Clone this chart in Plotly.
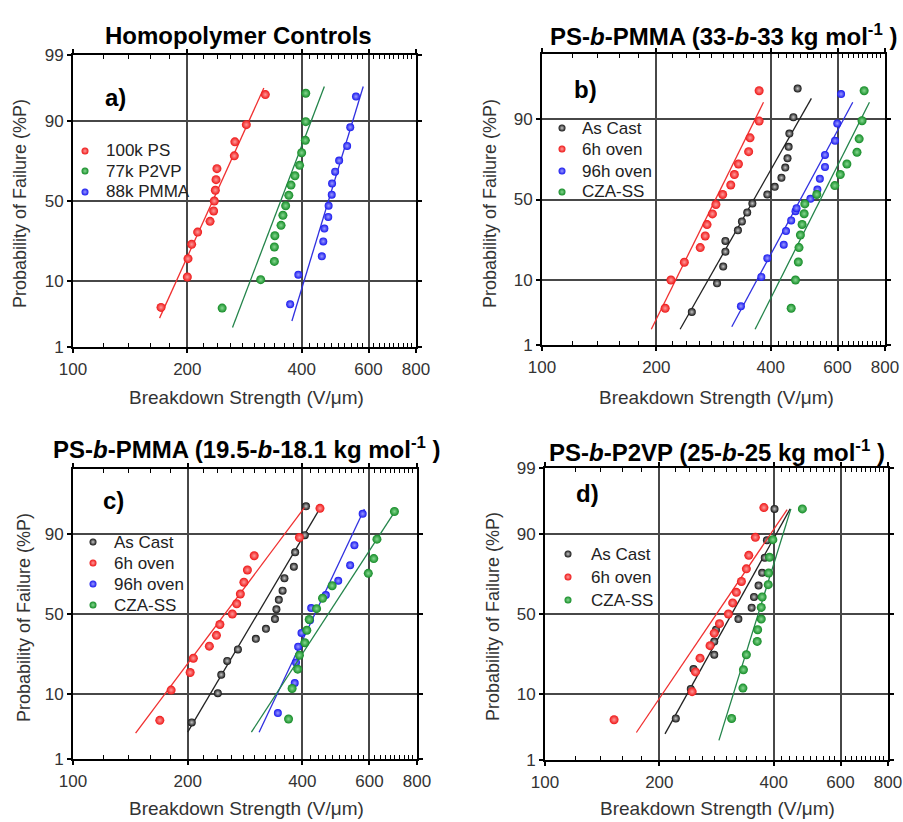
import math
from statistics import NormalDist
import plotly.graph_objects as go

# ---------------- data (Breakdown strength V/um, probability of failure %) ----------------
# a) Homopolymer controls
a_ps_x = [170.5, 200, 200.8, 205.3, 212.9, 229.5, 234.6, 235.5, 237, 238, 239.3, 265.9, 266.8, 286, 320.9]
a_ps_p = [4.5, 11.3, 17.9, 24.5, 31.0, 37.3, 43.7, 50.0, 56.8, 63.3, 69.7, 76.4, 82.7, 88.8, 95.5]
a_p2vp_x = [247, 312, 339, 339, 340, 353, 357, 363, 370, 375, 384, 395, 400, 409, 410, 410]
a_p2vp_p = [4.4, 10.5, 16.8, 23.2, 29.0, 34.9, 41.0, 47.0, 53.6, 60.0, 65.6, 71.5, 77.9, 83.3, 89.7, 95.7]
a_pmma_x = [373, 392, 452, 456, 459, 470, 471, 480, 481, 490, 502, 527, 537, 556]
a_pmma_p = [5.0, 12.0, 18.9, 26.0, 33.0, 40.0, 47.0, 54.0, 61.0, 68.0, 74.0, 81.0, 88.0, 95.2]
a_ps_fit_x, a_ps_fit_p = [169, 318], [3.1, 96.4]
a_p2vp_fit_x, a_p2vp_fit_p = [263, 459], [2.2, 96.6]
a_pmma_fit_x, a_pmma_fit_p = [377, 581], [2.8, 96.6]

# b) PS-b-PMMA 33-b-33
b_cast_x = [248, 289, 300, 304, 304, 328, 336, 347, 358, 392, 410, 427, 437, 443, 446, 448, 459, 471]
b_cast_p = [3.6, 9.0, 14.2, 20.2, 25.4, 31.1, 36.3, 41.8, 47.5, 53.2, 58.0, 63.6, 69.5, 74.5, 80.0, 85.4, 90.6, 96.2]
b_6h_x = [211, 218.5, 237, 261, 269, 272, 281, 287, 299, 314, 321, 329, 350, 353, 373, 373]
b_6h_p = [4.1, 9.9, 15.8, 22.1, 28.0, 34.4, 40.9, 46.8, 53.2, 59.2, 65.5, 71.5, 77.8, 83.8, 89.5, 95.9]
b_96h_x = [334, 378, 392, 433, 439, 453, 465, 468, 509, 531, 539, 556, 556, 591, 599, 613]
b_96h_p = [4.4, 10.8, 17.4, 23.5, 30.7, 36.9, 42.6, 44.5, 50.4, 56.3, 63.0, 69.9, 76.2, 82.6, 88.8, 95.4]
b_cza_x = [453, 465, 473, 475, 479, 484, 490, 492, 529, 590, 610, 635, 675, 684, 696, 705]
b_cza_p = [4.1, 9.9, 15.9, 22.1, 28.5, 34.5, 41.0, 47.2, 53.2, 58.8, 65.5, 71.5, 77.5, 83.4, 89.6, 95.9]
b_cast_fit_x, b_cast_fit_p = [231, 512], [1.9, 94.7]
b_6h_fit_x, b_6h_fit_p = [194, 383], [1.9, 94.0]
b_96h_fit_x, b_96h_fit_p = [316, 658], [2.1, 94.0]
b_cza_fit_x, b_cza_fit_p = [364, 728], [1.9, 94.0]

# c) PS-b-PMMA 19.5-b-18.1
c_cast_x = [205, 240, 245, 254, 271, 302, 321, 339, 342, 347, 355, 359, 380, 383, 406, 409]
c_cast_p = [4.1, 10.2, 16.5, 22.6, 28.5, 34.5, 40.6, 46.8, 53.0, 59.0, 64.6, 71.7, 77.6, 83.9, 89.7, 95.8]
c_6h_x = [169, 181, 203, 207, 228, 238, 243, 262, 269, 275, 281, 287, 299, 393, 445]
c_6h_p = [4.4, 11.1, 17.4, 23.9, 30.3, 36.6, 43.3, 50.0, 56.5, 62.6, 69.5, 76.0, 82.5, 89.0, 95.5]
c_96h_x = [345, 382, 385, 390, 398, 419, 422, 461, 497, 534, 548, 576]
c_96h_p = [5.6, 13.4, 21.8, 30.0, 38.1, 46.0, 53.8, 61.9, 70.3, 78.3, 86.5, 94.6]
c_cza_x = [368, 376, 389, 393, 406, 411, 417, 436, 452, 479, 596, 616, 628, 698]
c_cza_p = [4.6, 11.6, 18.8, 25.4, 32.2, 39.7, 46.5, 53.4, 60.0, 67.5, 74.3, 81.3, 88.5, 95.0]
c_cast_fit_x, c_cast_fit_p = [200, 439], [2.9, 94.9]
c_6h_fit_x, c_6h_fit_p = [146, 405], [2.8, 95.6]
c_96h_fit_x, c_96h_fit_p = [308, 582], [2.9, 95.4]
c_cza_fit_x, c_cza_fit_p = [294, 705], [2.9, 95.3]

# d) PS-b-P2VP 25-b-25
d_cast_x = [221, 242, 246, 279, 279, 282, 323, 350, 355, 365, 373, 379, 384, 402]
d_cast_p = [4.8, 11.6, 19.0, 25.8, 33.0, 40.1, 46.8, 54.0, 60.7, 67.5, 74.4, 81.5, 88.0, 95.3]
d_6h_x = [152, 244, 249, 256, 272, 279, 288, 304, 312, 319, 329, 339, 344, 358, 377]
d_6h_p = [4.6, 10.8, 17.8, 24.1, 30.7, 38.0, 43.9, 50.0, 57.0, 63.5, 69.8, 76.4, 82.5, 88.9, 95.5]
d_cza_x = [310, 332, 333, 339, 362, 363, 371, 371, 373, 387, 388, 390, 398, 476]
d_cza_p = [4.8, 11.9, 18.7, 25.8, 33.1, 40.1, 46.8, 54.2, 60.7, 68.0, 74.3, 81.7, 88.2, 95.3]
d_6h_fit_x, d_6h_fit_p = [174, 434], [2.95, 95.2]
d_cast_fit_x, d_cast_fit_p = [207, 442], [2.8, 95.3]
d_cza_fit_x, d_cza_fit_p = [287, 444], [2.2, 95.3]

x_tick_vals = [100, 200, 400, 600, 800]
y_tick_vals_full = [1, 10, 50, 90, 99]
y_tick_vals_short = [1, 10, 50, 90]

# ---------------- styling ----------------
FONT = "Liberation Sans, Arial, sans-serif"
W, H = 903, 822
RED, GREEN, BLUE, BLACK = "#ee1515", "#128a25", "#1818ee", "#111111"
TINT = {RED: "#ff9a9a", GREEN: "#86d890", BLUE: "#9a9aff", BLACK: "#c8c8c8"}
LINE = {RED: "#f03030", GREEN: "#23844a", BLUE: "#3030e0", BLACK: "#222222"}
TITLE_SIZE = 24

nd = NormalDist()


def zp(plist):
    return [nd.inv_cdf(p / 100.0) for p in plist]


def ital(s):
    return '<span style="font-style:italic;font-size:%dpx">%s</span>' % (TITLE_SIZE, s)


fig = go.Figure()


def marker_style(color, size):
    return dict(color=color, size=size, line=dict(width=0),
                gradient=dict(type="radial", color=TINT[color]))


legend_entries = {1: [], 2: [], 3: [], 4: []}


def add_series(i, name, xs, ps, fx, fp, color, size):
    ax = "" if i == 1 else str(i)
    fig.add_trace(go.Scatter(
        x=fx, y=zp(fp), mode="lines", xaxis="x" + ax, yaxis="y" + ax,
        line=dict(color=LINE[color], width=1.3), showlegend=False, hoverinfo="skip"))
    fig.add_trace(go.Scatter(
        x=xs, y=zp(ps), mode="markers", name=name, xaxis="x" + ax, yaxis="y" + ax,
        showlegend=False, marker=marker_style(color, size)))
    legend_entries[i].append((name, color))


# panel a
add_series(1, "100k PS", a_ps_x, a_ps_p, a_ps_fit_x, a_ps_fit_p, RED, 9)
add_series(1, "77k P2VP", a_p2vp_x, a_p2vp_p, a_p2vp_fit_x, a_p2vp_fit_p, GREEN, 9)
add_series(1, "88k PMMA", a_pmma_x, a_pmma_p, a_pmma_fit_x, a_pmma_fit_p, BLUE, 8)
# panel b
add_series(2, "As Cast", b_cast_x, b_cast_p, b_cast_fit_x, b_cast_fit_p, BLACK, 8)
add_series(2, "6h oven", b_6h_x, b_6h_p, b_6h_fit_x, b_6h_fit_p, RED, 9)
add_series(2, "96h oven", b_96h_x, b_96h_p, b_96h_fit_x, b_96h_fit_p, BLUE, 8)
add_series(2, "CZA-SS", b_cza_x, b_cza_p, b_cza_fit_x, b_cza_fit_p, GREEN, 9)
# panel c
add_series(3, "As Cast", c_cast_x, c_cast_p, c_cast_fit_x, c_cast_fit_p, BLACK, 8)
add_series(3, "6h oven", c_6h_x, c_6h_p, c_6h_fit_x, c_6h_fit_p, RED, 9)
add_series(3, "96h oven", c_96h_x, c_96h_p, c_96h_fit_x, c_96h_fit_p, BLUE, 8)
add_series(3, "CZA-SS", c_cza_x, c_cza_p, c_cza_fit_x, c_cza_fit_p, GREEN, 9)
# panel d
add_series(4, "As Cast", d_cast_x, d_cast_p, d_cast_fit_x, d_cast_fit_p, BLACK, 8)
add_series(4, "6h oven", d_6h_x, d_6h_p, d_6h_fit_x, d_6h_fit_p, RED, 9)
add_series(4, "CZA-SS", d_cza_x, d_cza_p, d_cza_fit_x, d_cza_fit_p, GREEN, 9)


def px_x(v):
    return v / W


def px_y(v):
    return 1 - v / H


minor_x = [v for v in range(120, 800, 20) if v not in (200, 400, 600)]


def xaxis(l, r, anchor):
    return dict(type="log", range=[2, math.log10(800)], domain=[px_x(l), px_x(r)], anchor=anchor,
                tickmode="array", tickvals=x_tick_vals, ticktext=[str(v) for v in x_tick_vals],
                ticks="outside", ticklen=4, tickwidth=1.5, tickcolor="black",
                showgrid=True, gridcolor="#474747", gridwidth=1.5,
                showline=True, linecolor="black", linewidth=2, mirror="ticks",
                minor=dict(tickmode="array", tickvals=minor_x, ticks="inside", ticklen=4,
                           tickcolor="black", tickwidth=1, showgrid=False),
                tickfont=dict(size=17, color="#333333", family=FONT), zeroline=False,
                ticklabelstandoff=2, automargin=False, fixedrange=True)


def yaxis(top, bottom, anchor, tickvals):
    return dict(range=[nd.inv_cdf(0.01), nd.inv_cdf(0.99)], domain=[px_y(bottom), px_y(top)], anchor=anchor,
                tickmode="array", tickvals=zp(tickvals), ticktext=[str(v) for v in tickvals],
                ticks="outside", ticklen=4, tickwidth=1.5, tickcolor="black",
                showgrid=True, gridcolor="#474747", gridwidth=1.5,
                showline=True, linecolor="black", linewidth=2, mirror="ticks",
                tickfont=dict(size=17, color="#333333", family=FONT), zeroline=False,
                automargin=False, fixedrange=True)


annotations = []


def ann(text, x, y, size, bold=False, angle=0, color="black", xanchor="center"):
    annotations.append(dict(text=("<b>%s</b>" % text) if bold else text, x=px_x(x), y=px_y(y),
                            xref="paper", yref="paper", showarrow=False, textangle=angle,
                            xanchor=xanchor, yanchor="middle",
                            font=dict(size=size, color=color, family=FONT)))


b = ital("b")
# titles
ann("Homopolymer Controls", 238, 35, TITLE_SIZE, bold=True)
ann("PS-%s-PMMA (33-%s-33 kg mol<sup>-1</sup> )" % (b, b), 723, 35, TITLE_SIZE, bold=True)
ann("PS-%s-PMMA (19.5-%s-18.1 kg mol<sup>-1</sup> )" % (b, b), 246, 448, TITLE_SIZE, bold=True)
ann("PS-%s-P2VP (25-%s-25 kg mol<sup>-1</sup> )" % (b, b), 717, 451, TITLE_SIZE, bold=True)
# panel labels
ann("a)", 115, 98, 24, bold=True)
ann("b)", 585, 90, 24, bold=True)
ann("c)", 113, 500, 24, bold=True)
ann("d)", 587, 493, 24, bold=True)
# axis titles
for (xx, yy) in [(247, 398), (716, 398), (246, 808), (717, 808)]:
    ann("Breakdown Strength (V/\u03bcm)", xx, yy, 19, color="#333333")
for (xx, yy) in [(20, 204), (490, 203), (24, 618), (493, 617)]:
    ann("Probability of Failure (%P)", xx, yy, 18, angle=-90, color="#333333")

# ---- in-panel legends (keys drawn on a full-figure pixel overlay axis) ----
legend_layout = {  # marker x, text x, row y centres (pixels)
    1: (85, 104, [151, 171, 192]),
    2: (562, 580, [128, 149, 171, 192]),
    3: (93, 112, [542, 563, 584, 605]),
    4: (568, 589, [554, 577, 600]),
}
for i, (mx, tx, rows) in legend_layout.items():
    for (name, color), ry in zip(legend_entries[i], rows):
        fig.add_trace(go.Scatter(x=[mx], y=[ry], mode="markers", xaxis="x5", yaxis="y5",
                                 showlegend=False, hoverinfo="skip", marker=marker_style(color, 7)))
        ann(name, tx, ry, 17, color="#222222", xanchor="left")

fig.update_layout(
    width=W, height=H, margin=dict(l=0, r=0, t=0, b=0, autoexpand=False),
    paper_bgcolor="white", plot_bgcolor="rgba(0,0,0,0)",
    font=dict(family=FONT),
    xaxis=xaxis(73, 416, "y"), yaxis=yaxis(55, 347, "x", y_tick_vals_full),
    xaxis2=xaxis(542, 885, "y2"), yaxis2=yaxis(54, 345, "x2", y_tick_vals_short),
    xaxis3=xaxis(73, 417, "y3"), yaxis3=yaxis(469, 759, "x3", y_tick_vals_short),
    xaxis4=xaxis(545, 888, "y4"), yaxis4=yaxis(468, 760, "x4", y_tick_vals_full),
    xaxis5=dict(domain=[0, 1], range=[0, W], visible=False, fixedrange=True, anchor="y5"),
    yaxis5=dict(domain=[0, 1], range=[H, 0], visible=False, fixedrange=True, anchor="x5"),
    annotations=annotations,
    showlegend=False,
)

fig.write_html("out.html")
